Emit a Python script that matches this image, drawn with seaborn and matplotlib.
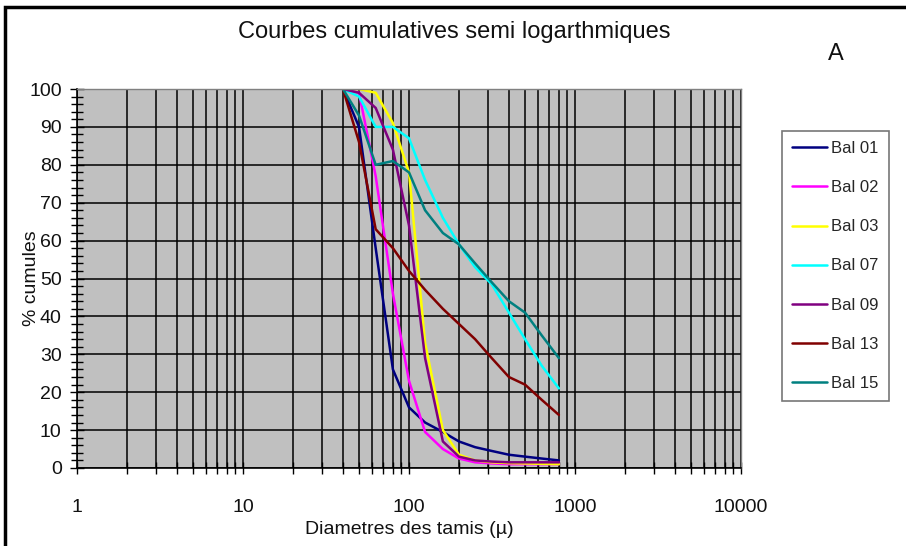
import matplotlib
matplotlib.use("Agg")
import matplotlib.pyplot as plt
from matplotlib.ticker import LogLocator, MultipleLocator, FixedLocator, NullFormatter
from matplotlib.patches import Rectangle
import seaborn as sns
import pandas as pd

# ---- data ----
diam = [40, 50, 63, 80, 100, 125, 160, 200, 250, 315, 400, 500, 630, 800]
bal01 = [100, 90, 58, 26, 16, 12, 9.5, 7, 5.5, 4.5, 3.5, 3, 2.5, 2]
bal02 = [100, 99, 77, 46, 23, 9.5, 5, 2.5, 1.5, 1.2, 1, 1, 1, 1]
bal03 = [100, 100, 99, 91, 78, 33, 10, 3.5, 2, 1.5, 1.3, 1.2, 1.1, 1]
bal07 = [100, 98, 90, 90, 87, 76, 66, 59, 53, 48.5, 41, 34, 27, 21]
bal09 = [100, 99, 95, 84, 64, 29, 7, 3, 2, 1.7, 1.5, 1.5, 1.5, 1.5]
bal13 = [100, 86, 63, 58, 52, 47, 42, 38, 34, 29, 24, 22, 18, 14]
bal15 = [100, 93, 80, 81, 78, 68, 62, 59, 54, 49, 44, 41, 35, 29]
series_names = ["Bal 01", "Bal 02", "Bal 03", "Bal 07", "Bal 09", "Bal 13", "Bal 15"]
series_vals = [bal01, bal02, bal03, bal07, bal09, bal13, bal15]
colors = ["#000080", "#FF00FF", "#FFFF00", "#00FFFF", "#800080", "#800000", "#008080"]
x_ticks = [1, 10, 100, 1000, 10000]
x_ticklabels = ["1", "10", "100", "1000", "10000"]

rows = []
for name, vals in zip(series_names, series_vals):
    for d, v in zip(diam, vals):
        rows.append({"d": d, "v": v, "s": name})
df = pd.DataFrame(rows)

sns.set_theme(style="white")
plt.rcParams["font.family"] = ["Liberation Sans", "DejaVu Sans"]

W, H = 906, 546
fig = plt.figure(figsize=(W / 100, H / 100), dpi=100)
fig.patch.set_facecolor("white")
ax = fig.add_axes([77 / W, 1 - 468 / H, (741 - 77) / W, (468 - 89) / H])
ax.set_facecolor("#C0C0C0")

sns.lineplot(data=df, x="d", y="v", hue="s", palette=colors, sort=False,
             linewidth=1.8, ax=ax, legend=False)

ax.set_xscale("log")
ax.set_xlim(1, 10000)
ax.set_ylim(0, 100)

ax.xaxis.set_major_locator(FixedLocator(x_ticks))
ax.set_xticklabels(x_ticklabels)
ax.xaxis.set_minor_locator(LogLocator(base=10, subs=range(2, 10), numticks=20))
ax.xaxis.set_minor_formatter(NullFormatter())
ax.yaxis.set_major_locator(MultipleLocator(10))
ax.yaxis.set_minor_locator(MultipleLocator(2))

ax.grid(True, which="major", axis="both", color="black", linewidth=1.1)
ax.grid(True, which="minor", axis="x", color="black", linewidth=1.1)
ax.set_axisbelow(True)

ax.tick_params(axis="x", which="both", direction="inout", length=8, width=1,
               colors="black", labelsize=14, pad=18, bottom=True)
ax.tick_params(axis="y", which="major", direction="inout", length=10, width=1,
               colors="black", labelsize=14, pad=6, left=True)
ax.tick_params(axis="y", which="minor", direction="inout", length=8, width=1,
               colors="black", left=True)
for lab in ax.get_xticklabels() + ax.get_yticklabels():
    lab.set_color("#111111")

for side in ["left", "bottom"]:
    ax.spines[side].set_color("black")
    ax.spines[side].set_linewidth(1.2)
for side in ["top", "right"]:
    ax.spines[side].set_color("#808080")
    ax.spines[side].set_linewidth(1.0)

ax.set_xlabel("Diametres des tamis (µ)", fontsize=14, color="#111111", labelpad=4)
ax.set_ylabel("% cumules", fontsize=14, color="#111111")
ax.yaxis.set_label_coords((40 - 77) / (741 - 77), 0.5)

fig.text(454 / W, 1 - 32 / H, "Courbes cumulatives semi logarthmiques",
         ha="center", va="center", fontsize=17, color="#111111")
fig.text(836 / W, 1 - 54 / H, "A", ha="center", va="center", fontsize=17, color="#111111")

handles = [plt.Line2D([0], [0], color=c, linewidth=1.8) for c in colors]
leg = fig.legend(handles, series_names, loc="upper left",
                 bbox_to_anchor=(782 / W, 1 - 131 / H), bbox_transform=fig.transFigure,
                 frameon=True, fancybox=False, fontsize=12, handlelength=2.1,
                 handletextpad=0.25, labelspacing=1.45, borderpad=0.6,
                 borderaxespad=0)
leg.get_frame().set_edgecolor("#555555")
leg.get_frame().set_linewidth(1.2)
leg.get_frame().set_facecolor("white")

fig.patches.append(Rectangle((5 / W, -0.1), 1.0, 1.1 - 7 / H,
                             transform=fig.transFigure, fill=False,
                             edgecolor="black", linewidth=2.5, zorder=10))

fig.savefig("out.png", dpi=100)
